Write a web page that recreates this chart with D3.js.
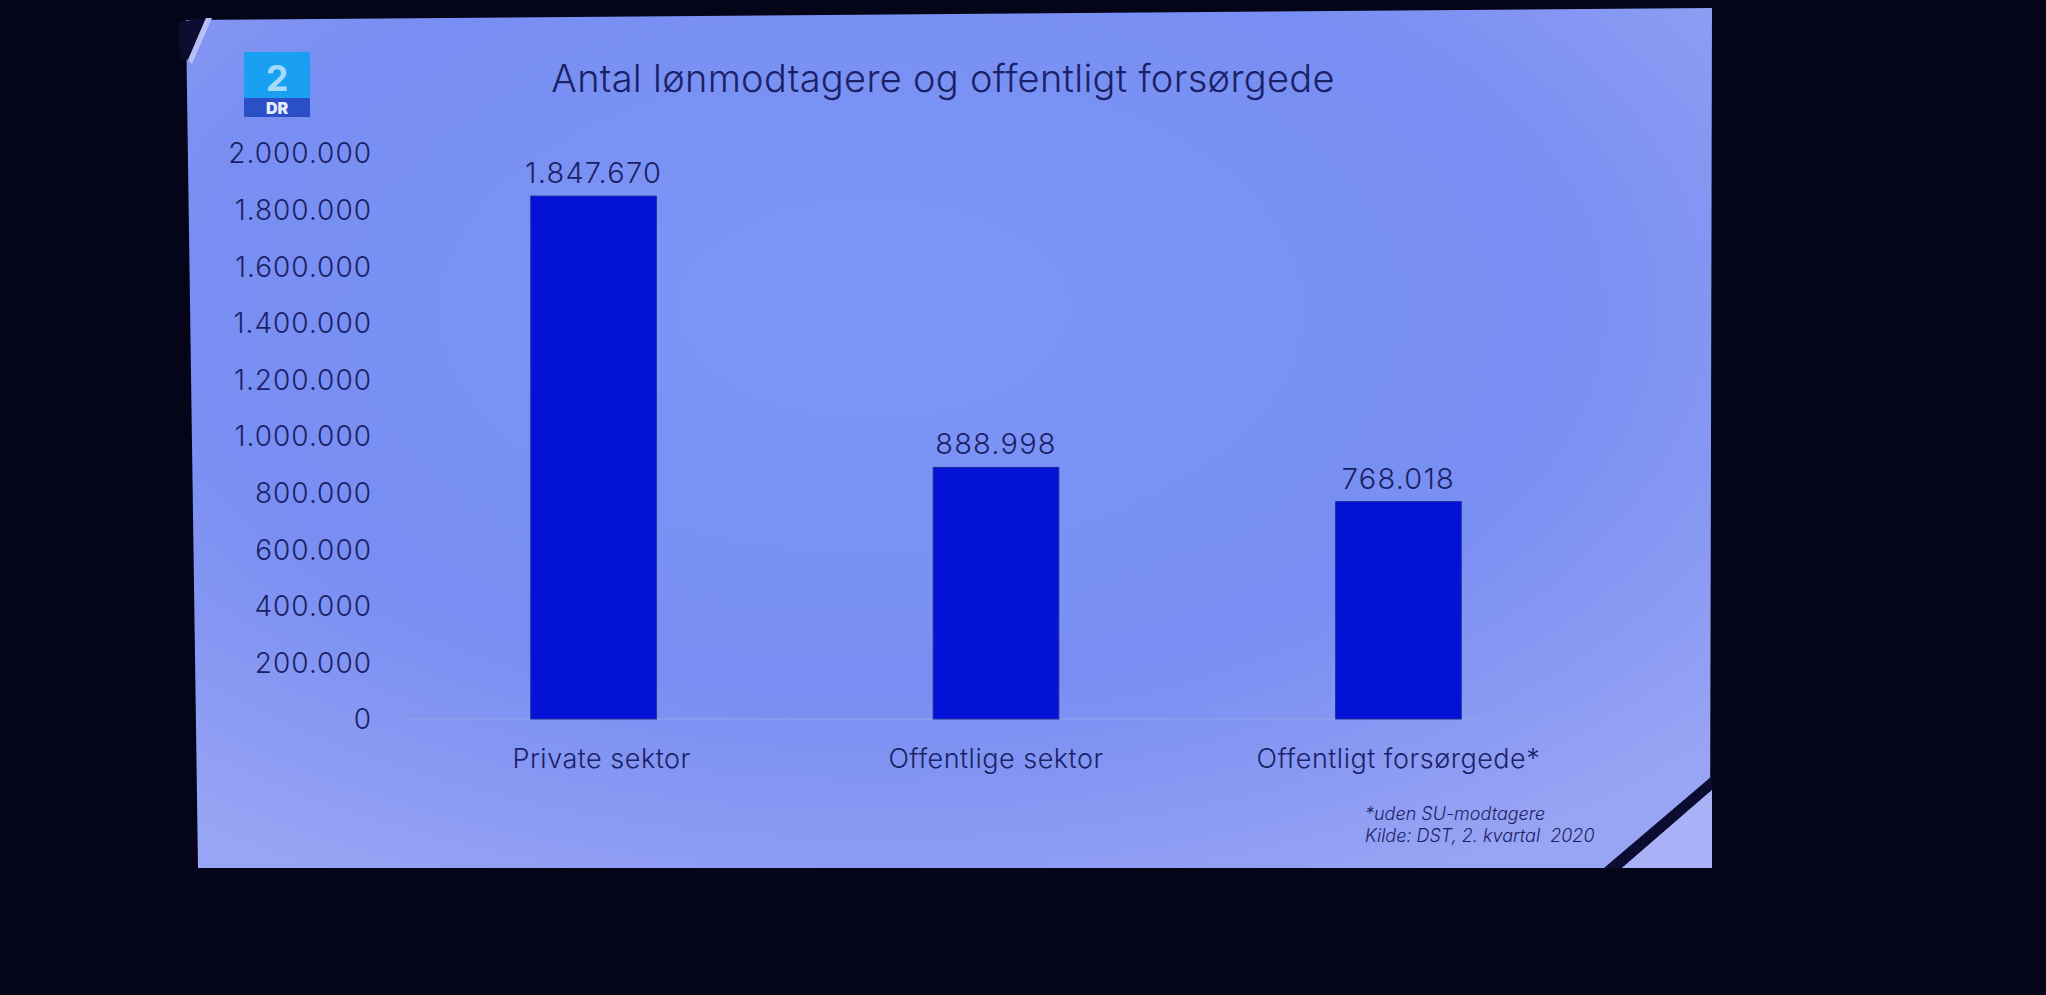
<!DOCTYPE html>
<html><head><meta charset="utf-8">
<script src="https://cdn.jsdelivr.net/npm/d3@7"></script>
<style>
html,body{margin:0;padding:0;background:#05051a;overflow:hidden;}
svg{display:block;}
text{font-family:Inter,"Noto Sans",sans-serif;fill:#1b2166;font-weight:300;}
</style></head><body>
<script>
const title = "Antal lønmodtagere og offentligt forsørgede";
const categories = ["Private sektor", "Offentlige sektor", "Offentligt forsørgede*"];
const values = [1847670, 888998, 768018];
const yTicks = [0, 200000, 400000, 600000, 800000, 1000000, 1200000, 1400000, 1600000, 1800000, 2000000];
const notes = ["*uden SU-modtagere", "Kilde: DST, 2. kvartal  2020"];

const W = 2046, H = 995;
const FF = "Inter,'Noto Sans',sans-serif";
const svg = d3.select("body").append("svg").attr("width", W).attr("height", H);
const defs = svg.append("defs");
const g1 = defs.append("radialGradient").attr("id","scr").attr("cx","0.45").attr("cy","0.35").attr("r","0.75");
g1.append("stop").attr("offset","0").attr("stop-color","#7d96f8");
g1.append("stop").attr("offset","0.6").attr("stop-color","#788ef2");
g1.append("stop").attr("offset","1").attr("stop-color","#98a4f4");

// screen
svg.append("path").attr("d","M186,20 L1712,8 L1710,868 L198,868 Z").attr("fill","url(#scr)");
// top-left dark corner
svg.append("path").attr("d","M178,22 L206,18 L188,60 L180,58 Z").attr("fill","#0c0c30");
svg.append("path").attr("d","M188,60 L206,18 L212,18 L192,64 Z").attr("fill","#b7bdf5");
// bottom-right reflection corner
svg.append("path").attr("d","M1604,868 L1712,776 L1712,790 L1622,868 Z").attr("fill","#0c0c30");
svg.append("path").attr("d","M1622,868 L1712,790 L1712,868 Z").attr("fill","#a9b2f6");

// logo
const lg = svg.append("g");
lg.append("rect").attr("x",244).attr("y",52).attr("width",66).attr("height",46).attr("fill","#1aa0f2");
lg.append("rect").attr("x",244).attr("y",98).attr("width",66).attr("height",19).attr("fill","#2b4fc4");
lg.append("text").attr("x",277).attr("y",91).attr("text-anchor","middle").attr("font-size",36).style("font-weight",700).style("fill","#a6dafc").text("2");
lg.append("text").attr("x",277).attr("y",114).attr("text-anchor","middle").attr("font-size",16).style("font-weight",900).style("fill","#e6ecff").text("DR");

// title
svg.append("text").attr("x",943).attr("y",92).attr("text-anchor","middle").attr("font-size",38)
  .attr("letter-spacing",0.3).style("font-weight",350).text(title);

const loc = d3.formatLocale({decimal:",", thousands:".", grouping:[3], currency:["",""]});
const fmt = loc.format(",d");

const x = d3.scaleBand().domain(categories).range([398,1594]).paddingInner(0.688).paddingOuter(0.33);
const y = d3.scaleLinear().domain([0,2000000]).range([719,153]);

// baseline
svg.append("line").attr("x1",405).attr("x2",1592).attr("y1",y(0)).attr("y2",y(0)).attr("stroke","#8da0ee").attr("stroke-width",1.5);

// y axis
const ya = svg.append("g").attr("transform","translate(372,0)")
  .call(d3.axisLeft(y).tickValues(yTicks).tickFormat(fmt).tickSize(0).tickPadding(0));
ya.select(".domain").remove();
ya.selectAll("text").attr("font-size",28).attr("letter-spacing",1).attr("dy","0.35em")
  .style("fill","#1b2166").style("font-family",FF).style("font-weight",320);

// bars
svg.selectAll("rect.bar").data(values).join("rect").attr("class","bar")
  .attr("x",(d,i)=>x(categories[i])).attr("width",x.bandwidth())
  .attr("y",d=>y(d)).attr("height",d=>y(0)-y(d))
  .attr("fill","#0412d8").attr("stroke","#1a2a9a").attr("stroke-width",1);

// value labels
svg.selectAll("text.val").data(values).join("text").attr("class","val")
  .attr("x",(d,i)=>x(categories[i])+x.bandwidth()/2).attr("y",d=>y(d)-13)
  .attr("text-anchor","middle").attr("font-size",29).attr("letter-spacing",1.2)
  .style("font-weight",320).text(d=>fmt(d));

// x axis
const xa = svg.append("g").attr("transform",`translate(0,${y(0)})`)
  .call(d3.axisBottom(x).tickSize(0).tickPadding(30));
xa.select(".domain").remove();
xa.selectAll("text").attr("font-size",27).attr("letter-spacing",0.5)
  .attr("dx",(d,i)=>i===0?8:0)
  .style("fill","#1b2166").style("font-family",FF).style("font-weight",320);

// notes
svg.selectAll("text.note").data(notes).join("text").attr("class","note")
  .attr("x",1365).attr("y",(d,i)=>820+i*22).attr("font-size",18).attr("font-style","italic")
  .style("white-space","pre").attr("xml:space","preserve").text(d=>d);
</script>
</body></html>
